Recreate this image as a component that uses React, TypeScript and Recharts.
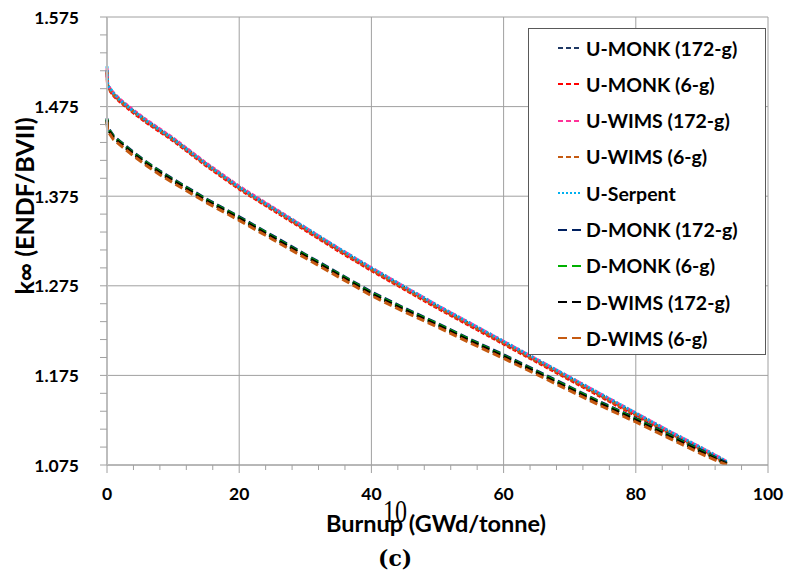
import React from "react";
import { LineChart, Line, XAxis, YAxis, CartesianGrid, Legend } from "recharts";

// burnup points (GWd/tonne)
const burnup = [0, 0.1, 1, 2, 4, 6, 8, 10, 15, 20, 25, 30, 35, 40, 45, 50, 55, 60, 65, 70, 75, 80, 85, 90, 93.75];

// k-infinity, U cases
const uMonk172 = [1.516, 1.498, 1.489, 1.482, 1.470, 1.459, 1.449, 1.439, 1.411, 1.385, 1.362, 1.339, 1.316, 1.294, 1.273, 1.252, 1.232, 1.212, 1.192, 1.172, 1.152, 1.132, 1.112, 1.093, 1.078];
const uMonk6 = [1.512, 1.496, 1.487, 1.480, 1.468, 1.457, 1.447, 1.437, 1.409, 1.383, 1.360, 1.337, 1.314, 1.292, 1.271, 1.250, 1.230, 1.210, 1.190, 1.170, 1.150, 1.130, 1.110, 1.091, 1.076];
const uWims172 = [1.518, 1.499, 1.490, 1.483, 1.471, 1.460, 1.450, 1.440, 1.412, 1.386, 1.363, 1.340, 1.317, 1.295, 1.274, 1.253, 1.233, 1.213, 1.193, 1.173, 1.153, 1.133, 1.113, 1.094, 1.079];
const uWims6 = [1.514, 1.497, 1.488, 1.481, 1.469, 1.458, 1.448, 1.438, 1.410, 1.384, 1.361, 1.338, 1.315, 1.293, 1.272, 1.251, 1.231, 1.211, 1.191, 1.171, 1.151, 1.131, 1.111, 1.092, 1.077];
const uSerpent = [1.520, 1.499, 1.490, 1.482, 1.470, 1.459, 1.449, 1.439, 1.411, 1.385, 1.362, 1.340, 1.317, 1.295, 1.274, 1.253, 1.233, 1.213, 1.193, 1.173, 1.153, 1.133, 1.113, 1.094, 1.079];

// k-infinity, D cases
const dMonk172 = [1.462, 1.452, 1.442, 1.436, 1.424, 1.413, 1.403, 1.394, 1.372, 1.352, 1.331, 1.310, 1.289, 1.268, 1.250, 1.233, 1.215, 1.198, 1.180, 1.162, 1.144, 1.127, 1.109, 1.091, 1.077];
const dMonk6 = [1.461, 1.451, 1.441, 1.435, 1.423, 1.412, 1.402, 1.393, 1.371, 1.351, 1.330, 1.309, 1.288, 1.267, 1.249, 1.232, 1.214, 1.197, 1.179, 1.161, 1.143, 1.126, 1.108, 1.090, 1.076];
const dWims172 = [1.460, 1.450, 1.440, 1.434, 1.422, 1.411, 1.401, 1.392, 1.370, 1.350, 1.329, 1.308, 1.287, 1.266, 1.248, 1.231, 1.213, 1.196, 1.178, 1.160, 1.142, 1.125, 1.107, 1.089, 1.076];
const dWims6 = [1.458, 1.448, 1.438, 1.432, 1.420, 1.409, 1.399, 1.390, 1.368, 1.348, 1.327, 1.306, 1.285, 1.264, 1.246, 1.229, 1.211, 1.194, 1.176, 1.158, 1.140, 1.123, 1.105, 1.087, 1.075];

const xTicks = [0, 4, 8, 12, 16, 20, 24, 28, 32, 36, 40, 44, 48, 52, 56, 60, 64, 68, 72, 76, 80, 84, 88, 92, 96, 100];
const xMajor = [0, 20, 40, 60, 80, 100];
const yTicks = [1.075, 1.095, 1.115, 1.135, 1.155, 1.175, 1.195, 1.215, 1.235, 1.255, 1.275, 1.295, 1.315, 1.335, 1.355, 1.375, 1.395, 1.415, 1.435, 1.455, 1.475, 1.495, 1.515, 1.535, 1.555, 1.575];
const yMajor = [1.075, 1.175, 1.275, 1.375, 1.475, 1.575];

const series = [
  { key: "uMonk172", name: "U-MONK (172-g)", values: uMonk172, color: "#1F3864", dash: "4 2", legendDash: "5 3" },
  { key: "uMonk6", name: "U-MONK (6-g)", values: uMonk6, color: "#FF0000", dash: "4 2", legendDash: "5 3" },
  { key: "uWims172", name: "U-WIMS (172-g)", values: uWims172, color: "#FF3399", dash: "4 2", legendDash: "5 3" },
  { key: "uWims6", name: "U-WIMS (6-g)", values: uWims6, color: "#C55A11", dash: "4 2", legendDash: "5 3" },
  { key: "uSerpent", name: "U-Serpent", values: uSerpent, color: "#00B0F0", dash: "2 2", legendDash: "2 2" },
  { key: "dMonk172", name: "D-MONK (172-g)", values: dMonk172, color: "#002060", dash: "8 4", legendDash: "9 5" },
  { key: "dMonk6", name: "D-MONK (6-g)", values: dMonk6, color: "#00B000", dash: "8 4", legendDash: "9 5" },
  { key: "dWims172", name: "D-WIMS (172-g)", values: dWims172, color: "#000000", dash: "8 4", legendDash: "9 5" },
  { key: "dWims6", name: "D-WIMS (6-g)", values: dWims6, color: "#C55A11", dash: "8 4", legendDash: "9 5" },
];

const data = burnup.map((b, i) => {
  const row: Record<string, number> = { burnup: b };
  series.forEach((s) => (row[s.key] = s.values[i]));
  return row;
});

const FONT = "Lato, 'Open Sans', sans-serif";
const AXIS = "#a0a0a0";

const isMajor = (list: number[], v: number) => list.some((m) => Math.abs(m - v) < 1e-6);

const XTick = (props: any) => {
  const { x, y, payload } = props;
  const major = isMajor(xMajor, payload.value);
  return (
    <g>
      <line x1={x} x2={x} y1={y} y2={y + (major ? 8 : 5)} stroke={AXIS} />
      {major && (
        <text x={x} y={y + 28} textAnchor="middle" dominantBaseline="central" fontFamily={FONT} fontWeight={700} fontSize={17.5} fill="#000">
          {payload.value}
        </text>
      )}
    </g>
  );
};

const YTick = (props: any) => {
  const { x, y, payload } = props;
  const major = isMajor(yMajor, payload.value);
  return (
    <g>
      <line x1={x - 7} x2={x} y1={y} y2={y} stroke={AXIS} />
      {major && (
        <text x={x - 28} y={y} textAnchor="end" dominantBaseline="central" fontFamily={FONT} fontWeight={700} fontSize={17.5} fill="#000">
          {payload.value.toFixed(3)}
        </text>
      )}
    </g>
  );
};

const renderLegend = () => (
  <div style={{ position: "relative", width: 238, height: 327, border: "1px solid #595959", background: "#fff", boxSizing: "border-box" }}>
    {series.map((s, i) => (
      <div key={s.key} style={{ position: "absolute", left: 29, top: 19 + i * 36.3 - 14, height: 28, display: "flex", alignItems: "center" }}>
        <svg width={24} height={4} style={{ marginRight: 4 }}>
          <line x1={0} x2={24} y1={2} y2={2} stroke={s.color} strokeWidth={2} strokeDasharray={s.legendDash} />
        </svg>
        <span style={{ fontFamily: FONT, fontWeight: 700, fontSize: 19.5, color: "#000", whiteSpace: "nowrap" }}>{s.name}</span>
      </div>
    ))}
  </div>
);

export default function App() {
  return (
    <div style={{ position: "absolute", left: 0, top: 0, width: 785, height: 576, background: "#fff" }}>
      <LineChart width={785} height={576} data={data} margin={{ top: 17, right: 17, left: 0, bottom: 0 }}>
        <CartesianGrid stroke={AXIS} horizontalValues={yMajor} verticalValues={xMajor} />
        <XAxis
          dataKey="burnup"
          type="number"
          domain={[0, 100]}
          ticks={xTicks}
          interval={0}
          height={111}
          tickSize={0}
          tickMargin={0}
          tick={<XTick />}
          axisLine={{ stroke: AXIS }}
          tickLine={false}
          label={() => (
            <text x={436} y={523} textAnchor="middle" dominantBaseline="central" fontFamily={FONT} fontWeight={700} fontSize={23.5} fill="#000">
              Burnup (GWd/tonne)
            </text>
          )}
        />
        <YAxis
          type="number"
          domain={[1.075, 1.575]}
          allowDataOverflow
          ticks={yTicks}
          interval={0}
          width={107}
          tickSize={0}
          tickMargin={0}
          tick={<YTick />}
          axisLine={{ stroke: "#bdbdbd", strokeWidth: 2 }}
          tickLine={false}
          label={() => (
            <text x={24} y={206} transform="rotate(-90 24 206)" textAnchor="middle" dominantBaseline="central" fontFamily={FONT} fontWeight={700} fontSize={25} fill="#000">
              k∞ (ENDF/BVII)
            </text>
          )}
        />
        <Legend
          layout="vertical"
          align="center"
          verticalAlign="middle"
          content={renderLegend}
          wrapperStyle={{ left: 528, top: 28, width: 238, height: 327 }}
        />
        {series.map((s) => (
          <Line
            key={s.key}
            dataKey={s.key}
            name={s.name}
            type="linear"
            stroke={s.color}
            strokeWidth={3}
            strokeDasharray={s.dash}
            dot={false}
            isAnimationActive={false}
          />
        ))}
      </LineChart>
      <div style={{ position: "absolute", left: 383, top: 493, fontFamily: "'Liberation Serif', serif", fontSize: 32, lineHeight: "36px", color: "#000", transform: "scaleX(0.75)", transformOrigin: "left top" }}>
        10
      </div>
      <div style={{ position: "absolute", left: 378, top: 544, fontFamily: "'DejaVu Serif', serif", fontWeight: 700, fontSize: 22, lineHeight: "28px", color: "#000" }}>
        (c)
      </div>
    </div>
  );
}
